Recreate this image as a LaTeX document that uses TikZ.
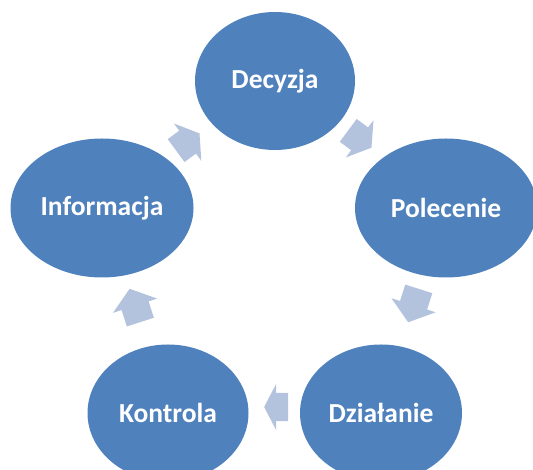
\documentclass[tikz,border=0pt]{standalone}
\usepackage{fontspec}
\setmainfont{Carlito}
\usetikzlibrary{shapes.geometric,shapes.arrows}
\definecolor{stageblue}{RGB}{79,129,189}
\definecolor{flowblue}{RGB}{179,195,222}

\begin{document}
\begin{tikzpicture}[x=1pt,y=1pt,
  stage/.style={ellipse,fill=stageblue,text=white,inner sep=0pt,font=\fontsize{27.5}{32}\selectfont\bfseries},
  flow/.style 2 args={single arrow,fill=flowblue,inner xsep=0pt,inner ysep=14pt,single arrow head extend=9pt,minimum height=#1,single arrow tip angle=#2,sloped,allow upside down,pos=0.475}]
\useasboundingbox (0,0) rectangle (533,470);
\node[stage,minimum width=160pt,minimum height=138pt] (dec) at (275,389) {Decyzja};
\node[stage,minimum width=182pt,minimum height=139pt] (pol) at (446,262) {Polecenie};
\node[stage,minimum width=162pt,minimum height=137pt] (dzi) at (381,57) {Działanie};
\node[stage,minimum width=161pt,minimum height=137pt] (kon) at (168,57) {Kontrola};
\node[stage,minimum width=183pt,minimum height=139pt] (inf) at (102,262) {Informacja};
\path ([yshift=5pt]dec.center) -- ([yshift=5pt]pol.center) node[flow={29pt}{115}] {};
\path ([yshift=5pt]pol.center) -- ([yshift=5pt]dzi.center) node[flow={35pt}{105}] {};
\path ([yshift=6pt]dzi.center) -- ([yshift=6pt]kon.center) node[flow={24pt}{125}] {};
\path ([yshift=5pt]kon.center) -- ([yshift=5pt]inf.center) node[flow={35pt}{105}] {};
\path ([yshift=3pt]inf.center) -- ([yshift=3pt]dec.center) node[flow={29pt}{115}] {};
\end{tikzpicture}
\end{document}
